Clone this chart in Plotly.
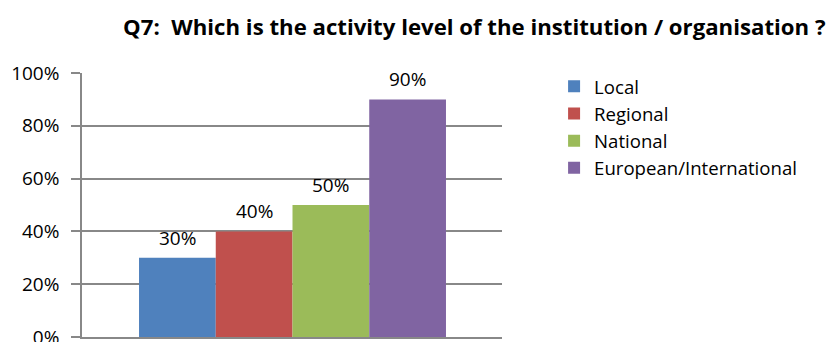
import plotly.graph_objects as go

categories = ["Local", "Regional", "National", "European/International"]
values = [0.30, 0.40, 0.50, 0.90]
labels = ["30%", "40%", "50%", "90%"]
colors = ["#4F81BD", "#C0504D", "#9BBB59", "#8064A2"]
tick_vals = [0, 0.2, 0.4, 0.6, 0.8, 1.0]
tick_text = ["0%", "20%", "40%", "60%", "80%", "100%"]

FONT = "'Open Sans', sans-serif"

fig = go.Figure()
for name, v, c in zip(categories, values, colors):
    fig.add_trace(go.Bar(
        x=[name], y=[v], name=name, width=1.0,
        marker=dict(color=c, line=dict(width=0)),
    ))
for name, v, lab in zip(categories, values, labels):
    fig.add_annotation(x=name, y=v, text=lab, showarrow=False, yanchor="bottom",
                       yshift=5, font=dict(size=19, family=FONT, color="#000000"))

fig.update_layout(
    width=838, height=342,
    margin=dict(l=82, r=336, t=73, b=5),
    paper_bgcolor="white", plot_bgcolor="white",
    barmode="overlay",
    font=dict(family=FONT, size=19, color="#000000"),
    title=dict(text="<b>Q7:  Which is the activity level of the institution / organisation ?</b>",
               x=0.566, xanchor="center", y=0.921, yanchor="middle",
               font=dict(size=22.2, family=FONT, color="#000000")),
    legend=dict(x=1.124, xanchor="left", y=1.02, yanchor="top",
                font=dict(size=18.6, family=FONT, color="#000000"),
                tracegroupgap=0, bgcolor="rgba(0,0,0,0)"),
    showlegend=True,
)
fig.update_xaxes(type="category", range=[-1.243, 4.23], showticklabels=False,
                 showline=True, linecolor="#888888", linewidth=2,
                 showgrid=False, ticks="", automargin=False)
fig.update_yaxes(range=[0, 1], tickvals=tick_vals, ticktext=tick_text, showgrid=True,
                 gridcolor="#888888", gridwidth=1.5, showline=True, linecolor="#888888",
                 linewidth=1.5, ticks="outside", ticklen=9, tickcolor="#888888", tickwidth=1.5,
                 ticklabeloverflow="allow", automargin=False, ticklabelstandoff=8,
                 tickfont=dict(size=19, family=FONT, color="#000000"), zeroline=False)

fig.write_html("out.html")
